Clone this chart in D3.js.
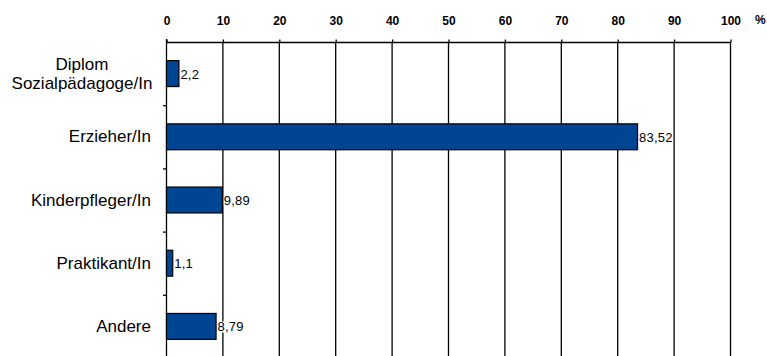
<!DOCTYPE html>
<html>
<head>
<meta charset="utf-8">
<script src="https://cdn.jsdelivr.net/npm/d3@7"></script>
<style>
  html, body { margin: 0; padding: 0; background: #fff; }
  svg { display: block; }
</style>
</head>
<body>
<svg id="chart" width="767" height="356"></svg>
<script>
// Qualifikation des Personals (Anteil in %)
const categories = [
  ["Diplom", "Sozialpädagoge/In"],
  ["Erzieher/In"],
  ["Kinderpfleger/In"],
  ["Praktikant/In"],
  ["Andere"]
];
const values = [2.2, 83.52, 9.89, 1.1, 8.79];
const valueLabels = ["2,2", "83,52", "9,89", "1,1", "8,79"];
const tickValues = [0, 10, 20, 30, 40, 50, 60, 70, 80, 90, 100];

const svg = d3.select("#chart");
const plotLeft = 166, plotRight = 730, plotTop = 42, plotBottom = 358;
const labelFont = "Liberation Sans, Arial, sans-serif";

const x = d3.scaleLinear().domain([0, 100]).range([plotLeft, plotRight]);
const y = d3.scaleBand().domain(d3.range(categories.length)).range([plotTop, plotBottom])
  .paddingInner(0.59).paddingOuter(0.295);
const yEdges = d3.scaleBand().domain(d3.range(categories.length)).range([plotTop, plotBottom]);

// vertical gridlines
svg.append("g").selectAll("line").data(tickValues.slice(1)).join("line")
  .attr("x1", d => x(d) + 0.5).attr("x2", d => x(d) + 0.5)
  .attr("y1", plotTop).attr("y2", 356)
  .attr("stroke", "#000").attr("stroke-width", 1.3);

// top axis
const xAxis = d3.axisTop(x).tickValues(tickValues).tickSize(3).tickPadding(15)
  .tickFormat(d3.format("d"));
const gx = svg.append("g").attr("transform", `translate(0.5,${plotTop + 0.5})`).call(xAxis);
gx.select(".domain").attr("stroke", "#000").attr("stroke-width", 1.3).attr("d", `M${plotLeft},0H${plotRight}`);
gx.selectAll(".tick line").attr("stroke", "#000").attr("stroke-width", 1.3);
gx.selectAll(".tick text")
  .attr("font-family", labelFont)
  .attr("font-size", 12).attr("font-weight", "bold").attr("fill", "#000");
svg.append("text").attr("x", 755).attr("y", 24)
  .attr("font-family", labelFont)
  .attr("font-size", 12).attr("font-weight", "bold").text("%");

// left axis with category separators
svg.append("line").attr("x1", plotLeft + 0.5).attr("x2", plotLeft + 0.5)
  .attr("y1", plotTop - 3).attr("y2", 356).attr("stroke", "#000").attr("stroke-width", 1.3);
svg.append("g").selectAll("line").data(d3.range(1, categories.length)).join("line")
  .attr("x1", plotLeft - 3).attr("x2", plotLeft + 0.5)
  .attr("y1", d => yEdges(d) + 0.5).attr("y2", d => yEdges(d) + 0.5)
  .attr("stroke", "#000").attr("stroke-width", 1.3);

// category labels
svg.append("g").selectAll("text").data(categories).join("text")
  .attr("font-family", labelFont).attr("font-size", 17).attr("fill", "#000")
  .attr("text-anchor", d => d.length > 1 ? "middle" : "end")
  .each(function(d, i) {
    const cy = y(i) + y.bandwidth() / 2;
    const t = d3.select(this);
    const ax = d.length > 1 ? 82 : 151;
    d.forEach((line, j) => {
      t.append("tspan").attr("x", ax)
        .attr("y", cy + (j - (d.length - 1) / 2) * 19 + 5.5)
        .text(line);
    });
  });

// bars
svg.append("g").selectAll("rect").data(values).join("rect")
  .attr("x", x(0) + 0.5).attr("y", (d, i) => y(i))
  .attr("width", d => x(d) - x(0)).attr("height", y.bandwidth())
  .attr("fill", "#004494").attr("stroke", "#000").attr("stroke-width", 1.2);

// value labels with white backing
const vl = svg.append("g").selectAll("g").data(values).join("g")
  .attr("transform", (d, i) => `translate(${x(d) + 2},${y(i) + y.bandwidth() / 2 + 0.5})`);
vl.append("text")
  .attr("font-family", labelFont).attr("font-size", 13).attr("fill", "#000")
  .attr("letter-spacing", 0.2)
  .attr("dy", "0.35em")
  .text((d, i) => valueLabels[i]);
vl.each(function() {
  const g = d3.select(this);
  const bb = g.select("text").node().getBBox();
  g.insert("rect", "text").attr("x", bb.x).attr("y", bb.y + 2)
    .attr("width", bb.width).attr("height", bb.height - 4).attr("fill", "#fff");
});
</script>
</body>
</html>
